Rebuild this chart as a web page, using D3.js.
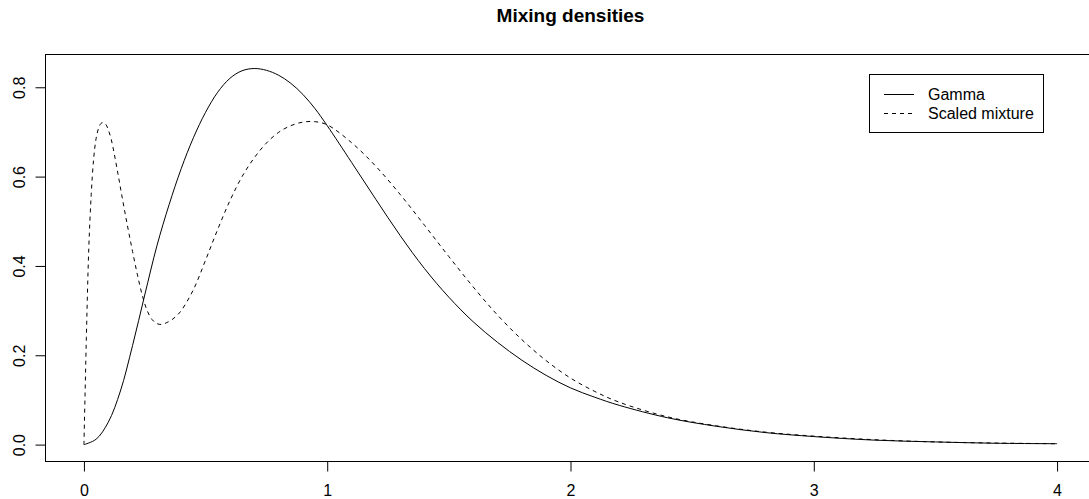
<!DOCTYPE html>
<html>
<head>
<meta charset="utf-8">
<script src="https://cdn.jsdelivr.net/npm/d3@7"></script>
<style>
  html, body { margin: 0; padding: 0; background: #fff; }
  svg { display: block; }
  text { font-family: "Liberation Sans", Arial, Helvetica, sans-serif; fill: #000; }
</style>
</head>
<body>
<svg id="chart" width="1089" height="499"></svg>
<script>
// ---- data ----
const title = "Mixing densities";
const seriesNames = ["Gamma", "Scaled mixture"];

const gammaX = [0, 0.05, 0.1, 0.15, 0.2, 0.25, 0.3, 0.35, 0.4, 0.45, 0.5, 0.55, 0.6, 0.65, 0.7, 0.75, 0.8, 0.85, 0.9, 0.95, 1.0,
                1.1, 1.2, 1.3, 1.4, 1.5, 1.6, 1.7, 1.8, 1.9, 2.0, 2.1, 2.2, 2.4, 2.6, 2.8, 3.0, 3.25, 3.5, 3.75, 4.0];
const gammaY = [0, 0.012, 0.050, 0.120, 0.222, 0.335, 0.445, 0.537, 0.618, 0.687, 0.744, 0.789, 0.820, 0.837, 0.842, 0.838, 0.827, 0.809, 0.784, 0.752, 0.714,
                0.632, 0.549, 0.468, 0.394, 0.330, 0.275, 0.229, 0.189, 0.155, 0.127, 0.106, 0.088, 0.060, 0.041, 0.027, 0.018, 0.010, 0.006, 0.003, 0.002];

const mixX = [0, 0.005, 0.01, 0.02, 0.03, 0.04, 0.05, 0.06, 0.07, 0.08, 0.09, 0.1, 0.11, 0.12, 0.14, 0.16, 0.18, 0.2, 0.22, 0.24, 0.26, 0.28, 0.3,
              0.32, 0.34, 0.36, 0.38, 0.4, 0.45, 0.5, 0.55, 0.6, 0.65, 0.7, 0.75, 0.8, 0.85, 0.9, 0.95, 1.0,
              1.1, 1.2, 1.3, 1.4, 1.5, 1.6, 1.7, 1.8, 1.9, 2.0, 2.1, 2.2, 2.4, 2.6, 2.8, 3.0, 3.25, 3.5, 3.75, 4.0];
const mixY = [0, 0.12, 0.24, 0.44, 0.56, 0.64, 0.685, 0.708, 0.719, 0.721, 0.717, 0.705, 0.688, 0.664, 0.606, 0.545, 0.487, 0.432, 0.380, 0.334, 0.300, 0.280, 0.271,
              0.269, 0.273, 0.279, 0.288, 0.300, 0.347, 0.413, 0.482, 0.546, 0.600, 0.642, 0.675, 0.699, 0.714, 0.722, 0.723, 0.716,
              0.676, 0.623, 0.560, 0.491, 0.421, 0.353, 0.290, 0.235, 0.188, 0.149, 0.119, 0.095, 0.062, 0.042, 0.028, 0.019, 0.011, 0.006, 0.0035, 0.002];

const xTicks = [0, 1, 2, 3, 4];
const yTicks = [0.0, 0.2, 0.4, 0.6, 0.8];
const yTickLabels = ["0.0", "0.2", "0.4", "0.6", "0.8"];

// ---- layout ----
const svg = d3.select("#chart");
const x = d3.scaleLinear().domain([-0.16, 4.16]).range([45, 1096]);
const y = d3.scaleLinear().domain([-0.0367, 0.8745]).range([461, 54]);

// title
svg.append("text")
  .attr("x", (x.range()[0] + x.range()[1]) / 2)
  .attr("y", 22)
  .attr("text-anchor", "middle")
  .style("font-weight", "bold")
  .style("font-size", "19px")
  .text(title);

// curves
const line = d3.line().x(d => x(d[0])).y(d => y(d[1])).curve(d3.curveCatmullRom.alpha(0.5));
const gammaPts = gammaX.map((v, i) => [v, gammaY[i]]);
const mixPts = mixX.map((v, i) => [v, mixY[i]]);

const plot = svg.append("g");
plot.append("path").datum(gammaPts)
  .attr("d", line).attr("fill", "none").attr("stroke", "#000").attr("stroke-width", 1);
plot.append("path").datum(mixPts)
  .attr("d", line).attr("fill", "none").attr("stroke", "#000").attr("stroke-width", 1)
  .attr("stroke-dasharray", "4,4");

// box
svg.append("rect")
  .attr("x", x.range()[0] + 0.5).attr("y", y.range()[1] + 0.5)
  .attr("width", x.range()[1] - x.range()[0]).attr("height", y.range()[0] - y.range()[1])
  .attr("fill", "none").attr("stroke", "#000").attr("stroke-width", 1);

// x axis
const xAxis = d3.axisBottom(x).tickValues(xTicks).tickFormat(d3.format("d")).tickSize(10).tickPadding(13);
const gx = svg.append("g").attr("transform", `translate(0,${y.range()[0] + 0.5})`).call(xAxis);
gx.select(".domain").attr("d", `M${x(xTicks[0])},0H${x(xTicks[xTicks.length - 1])}`);
gx.selectAll("text").style("font-size", "16px").attr("font-family", null);

// y axis
const yAxis = d3.axisLeft(y).tickValues(yTicks).tickFormat((d, i) => yTickLabels[i]).tickSize(10).tickPadding(0);
const gy = svg.append("g").attr("transform", `translate(${x.range()[0] + 0.5},0)`).call(yAxis);
gy.select(".domain").attr("d", `M0,${y(yTicks[0])}V${y(yTicks[yTicks.length - 1])}`);
gy.selectAll(".tick text")
  .attr("x", null).attr("dy", null)
  .attr("text-anchor", "middle")
  .attr("transform", "translate(-21,0) rotate(-90)")
  .style("font-size", "16px").attr("font-family", null);
svg.selectAll(".tick line").attr("stroke", "#000");
svg.selectAll(".domain").attr("stroke", "#000");

// legend
const lg = svg.append("g");
lg.append("rect").attr("x", 869.5).attr("y", 74.5).attr("width", 174).attr("height", 58)
  .attr("fill", "#fff").attr("stroke", "#000").attr("stroke-width", 1);
const rows = [94.5, 113.5];
seriesNames.forEach((name, i) => {
  lg.append("line").attr("x1", 884).attr("x2", 914).attr("y1", rows[i]).attr("y2", rows[i])
    .attr("stroke", "#000").attr("stroke-width", 1)
    .attr("stroke-dasharray", i === 1 ? "4,4" : null);
  lg.append("text").attr("x", 928).attr("y", rows[i] + 5.5).style("font-size", "16px").text(name);
});
</script>
</body>
</html>
